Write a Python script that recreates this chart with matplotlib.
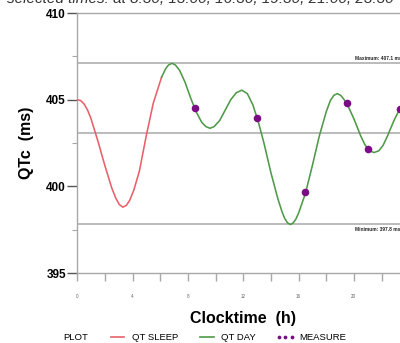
import matplotlib
matplotlib.use("Agg")
import matplotlib.pyplot as plt
from matplotlib.lines import Line2D

plt.rcParams['font.family'] = ['Liberation Sans', 'DejaVu Sans']

# QT during sleep (red)
sleep_h = [0, 0.25, 0.5, 0.75, 1.0, 1.5, 2.0, 2.5, 2.8, 3.05, 3.3, 3.55, 3.8,
           4.1, 4.5, 5.0, 5.5, 6.1]
sleep_qtc = [405.0, 404.95, 404.75, 404.4, 403.9, 402.6, 401.2, 399.9, 399.3,
             398.95, 398.8, 398.9, 399.2, 399.8, 400.9, 402.95, 404.8, 406.3]

# QT during day (green)
day_h = [6.1, 6.4, 6.6, 6.85, 7.1, 7.4, 7.8, 8.2, 8.6, 9.0, 9.3, 9.6, 9.9, 10.3,
         10.7, 11.1, 11.5, 11.9, 12.3, 12.7, 13.1, 13.5, 14.0, 14.5, 14.8, 15.0,
         15.2, 15.4, 15.6, 15.8, 16.0, 16.5, 17.0, 17.5, 18.0, 18.3, 18.55, 18.8,
         19.05, 19.3, 19.6, 20.0, 20.5, 20.8, 21.1, 21.45, 21.8, 22.1, 22.4,
         22.9, 23.4, 24.0]
day_qtc = [406.3, 406.8, 407.0, 407.1, 407.0, 406.7, 406.0, 405.1, 404.3, 403.7,
           403.45, 403.35, 403.45, 403.8, 404.4, 405.0, 405.4, 405.55, 405.35,
           404.7, 403.7, 402.5, 400.8, 399.3, 398.55, 398.15, 397.9, 397.8,
           397.88, 398.1, 398.45, 399.6, 401.2, 402.9, 404.3, 404.95, 405.25,
           405.35, 405.25, 405.0, 404.6, 403.9, 402.9, 402.4, 402.07, 401.95,
           402.05, 402.35, 402.85, 403.8, 404.6, 405.1]

# Measurements (purple dots)
meas_h = [8.5, 13.0, 16.5, 19.5, 21.0, 23.3]
meas_qtc = [404.5, 403.95, 399.65, 404.8, 402.15, 404.45]

max_qtc = 407.1
mesor_qtc = 403.1
min_qtc = 397.8

fig = plt.figure(figsize=(4.0, 3.43), dpi=100)
ax = fig.add_axes([0.193, 0.204, 0.83, 0.758])

gray = '#a8a8a8'
for v in (max_qtc, mesor_qtc, min_qtc):
    ax.axhline(v, color=gray, lw=1.1, zorder=1)

ax.plot(sleep_h, sleep_qtc, color='#e8606a', lw=1.15, zorder=3)
ax.plot(day_h, day_qtc, color='#4f9a48', lw=1.15, zorder=3)
ax.scatter(meas_h, meas_qtc, s=30, color='#7b0c86', zorder=4, linewidths=0)

ax.text(20.1, max_qtc + 0.12, 'Maximum: 407.1 ms', fontsize=3.5, fontweight='bold',
        ha='left', va='bottom', color='#222222')
ax.text(20.1, min_qtc - 0.12, 'Minimum: 397.8 ms', fontsize=3.5, fontweight='bold',
        ha='left', va='top', color='#222222')

ax.set_xlim(0, 24)
ax.set_ylim(395, 410)

for s in ('top', 'left', 'bottom', 'right'):
    ax.spines[s].set_color(gray)
    ax.spines[s].set_linewidth(1.0)

ax.set_yticks([395, 400, 405, 410])
ax.set_yticks([397.5, 402.5, 407.5], minor=True)
ax.set_yticklabels(['395', '400', '405', '410'], fontweight='bold', fontsize=8.5)
ax.tick_params(axis='y', which='major', length=7, width=1.0, color='#555555', pad=1)
ax.tick_params(axis='y', which='minor', length=3.5, width=0.8, color=gray)

ax.set_xticks(range(0, 25, 2))
ax.set_xticklabels([str(h) if h % 4 == 0 else '' for h in range(0, 25, 2)],
                   fontsize=3.3, color='#666666')
ax.tick_params(axis='x', which='major', length=6, width=1.0, color=gray, pad=9)

ax.set_xlabel('Clocktime  (h)', fontsize=11.5, fontweight='bold', labelpad=9)
ax.set_ylabel('QTc  (ms)', fontsize=11.5, fontweight='bold', labelpad=9)

fig.text(0.5, 1.004, 'selected times: at 8:30, 13:00, 16:30, 19:30, 21:00, 23:30',
         fontsize=11, style='italic', ha='center', va='center', color='#333333')

fig.text(0.158, 0.016, 'PLOT', fontsize=6.8, va='center', ha='left')
handles = [Line2D([], [], color='#e8606a', lw=1.2),
           Line2D([], [], color='#4f9a48', lw=1.2),
           Line2D([], [], color='#7b0c86', lw=0, marker='o', markersize=1.7)]
leg = fig.legend(handles, ['QT SLEEP', 'QT DAY', 'MEASURE'], ncol=3,
                 loc='center left', bbox_to_anchor=(0.258, 0.016), frameon=False,
                 fontsize=6.8, handlelength=2.0, handletextpad=0.5,
                 columnspacing=2.1, numpoints=3, borderpad=0)

fig.savefig('out.png', dpi=100)
